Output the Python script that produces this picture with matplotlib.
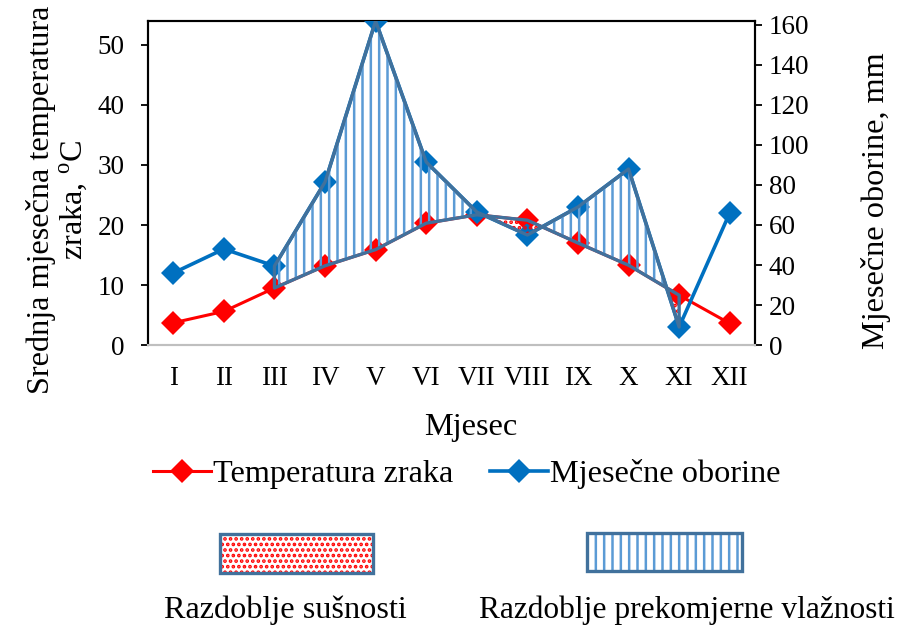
import matplotlib
matplotlib.use('Agg')
import matplotlib.pyplot as plt
import numpy as np
from matplotlib.lines import Line2D
from matplotlib.patches import Rectangle

months = ['I', 'II', 'III', 'IV', 'V', 'VI', 'VII', 'VIII', 'IX', 'X', 'XI', 'XII']
temperature = [3.7, 5.6, 9.5, 13.2, 15.9, 20.3, 21.7, 20.8, 17.0, 13.3, 8.3, 3.6]
precipitation = [36, 48, 39.5, 81.5, 162, 91.5, 66.5, 55, 69, 88, 9, 66]
period_start, period_end = 2, 10   # III .. XI, range covered by the shaded shapes
temp_ticks = [0, 10, 20, 30, 40, 50]
prec_ticks = [0, 20, 40, 60, 80, 100, 120, 140, 160]

plt.rcParams['font.family'] = ['Liberation Serif', 'DejaVu Serif']
plt.rcParams['mathtext.fontset'] = 'custom'
plt.rcParams['mathtext.rm'] = 'Liberation Serif'
plt.rcParams['hatch.linewidth'] = 1.8

W, H = 901, 629
fig = plt.figure(figsize=(W / 100, H / 100), dpi=100)
ax = fig.add_axes([148 / W, 1 - 345 / H, (755 - 148) / W, (345 - 21) / H])
ax2 = ax.twinx()

RED = '#FF0000'
BLUE = '#0070C0'
OUT = '#41719C'
HATCHB = '#5B9BD5'
TICK_FS = 19.5
LAB_FS = 23.2
MS = 12.5

x = np.arange(len(months))
T = np.array(temperature)
P = np.array(precipitation)

ax.plot(x, T, color=RED, lw=2.2, marker='D', ms=MS, mew=0, zorder=3)
ax2.plot(x, P, color=BLUE, lw=2.6, marker='D', ms=MS, mew=0, zorder=3)

xs = x[period_start:period_end + 1]
t3 = 3 * T[period_start:period_end + 1]
ps = P[period_start:period_end + 1]
ax2.fill_between(xs, t3, ps, where=ps >= t3, interpolate=True, facecolor='none',
                 edgecolor=HATCHB, hatch='||', lw=0, zorder=4)
ax2.fill_between(xs, t3, ps, where=ps <= t3, interpolate=True, facecolor='none',
                 edgecolor=RED, hatch='...', lw=0, zorder=4)
ax2.fill_between(xs, t3, ps, facecolor='none', edgecolor=OUT, lw=2.4, zorder=5)

ax.set_xlim(-0.5, 11.5)
ax.set_ylim(0, 54)
ax2.set_ylim(0, 162)
ax.set_xticks(x)
ax.set_xticklabels(months)
ax.set_yticks(temp_ticks)
ax2.set_yticks(prec_ticks)

ax.tick_params(axis='x', length=0, labelsize=TICK_FS, pad=15)
ax.tick_params(axis='y', direction='out', length=5, width=1.3, labelsize=TICK_FS, pad=12)
ax2.tick_params(axis='y', direction='out', length=5, width=1.3, labelsize=TICK_FS, pad=5)

for a in (ax, ax2):
    for s in ('left', 'right', 'top'):
        a.spines[s].set_color('black')
        a.spines[s].set_linewidth(1.5)
    a.spines['bottom'].set_color('#BFBFBF')
    a.spines['bottom'].set_linewidth(1.5)

ax.set_ylabel('Srednja mjesečna temperatura\nzraka, $^{\\mathrm{o}}$C', fontsize=LAB_FS,
              linespacing=1.05)
ax.yaxis.set_label_coords((90 - 148) / 607, (345 - 200) / 324)
ax2.set_ylabel('Mjesečne oborine, mm', fontsize=LAB_FS)
ax2.yaxis.set_label_coords((861 - 148) / 607, (345 - 201) / 324)
ax.set_xlabel('Mjesec', fontsize=LAB_FS)
ax.xaxis.set_label_coords((471 - 148) / 607, (345 - 413) / 324)

h1 = Line2D([], [], color=RED, lw=2.2, marker='D', ms=MS, mew=0)
h2 = Line2D([], [], color=BLUE, lw=2.6, marker='D', ms=MS, mew=0)
fig.legend([h1, h2], ['Temperatura zraka', 'Mjesečne oborine'], loc='center',
           bbox_to_anchor=(467 / W, 1 - 474 / H), ncol=2, frameon=False, fontsize=LAB_FS,
           handlelength=1.8, handletextpad=0.05, columnspacing=1.15)

def legend_box(x0, y0, x1, y1, color, hatch):
    fig.add_artist(Rectangle((x0 / W, 1 - y1 / H), (x1 - x0) / W, (y1 - y0) / H,
                             transform=fig.transFigure, facecolor='none',
                             edgecolor=color, hatch=hatch, lw=0))
    fig.add_artist(Rectangle((x0 / W, 1 - y1 / H), (x1 - x0) / W, (y1 - y0) / H,
                             transform=fig.transFigure, facecolor='none',
                             edgecolor=OUT, lw=2.4))

legend_box(220, 534, 373, 573, RED, '...')
legend_box(587, 533, 742, 571, HATCHB, '||')
fig.text(285 / W, 1 - 610 / H, 'Razdoblje sušnosti', ha='center', va='center', fontsize=LAB_FS)
fig.text(687 / W, 1 - 610 / H, 'Razdoblje prekomjerne vlažnosti', ha='center', va='center',
         fontsize=22.6)

fig.savefig('out.png', dpi=100)
